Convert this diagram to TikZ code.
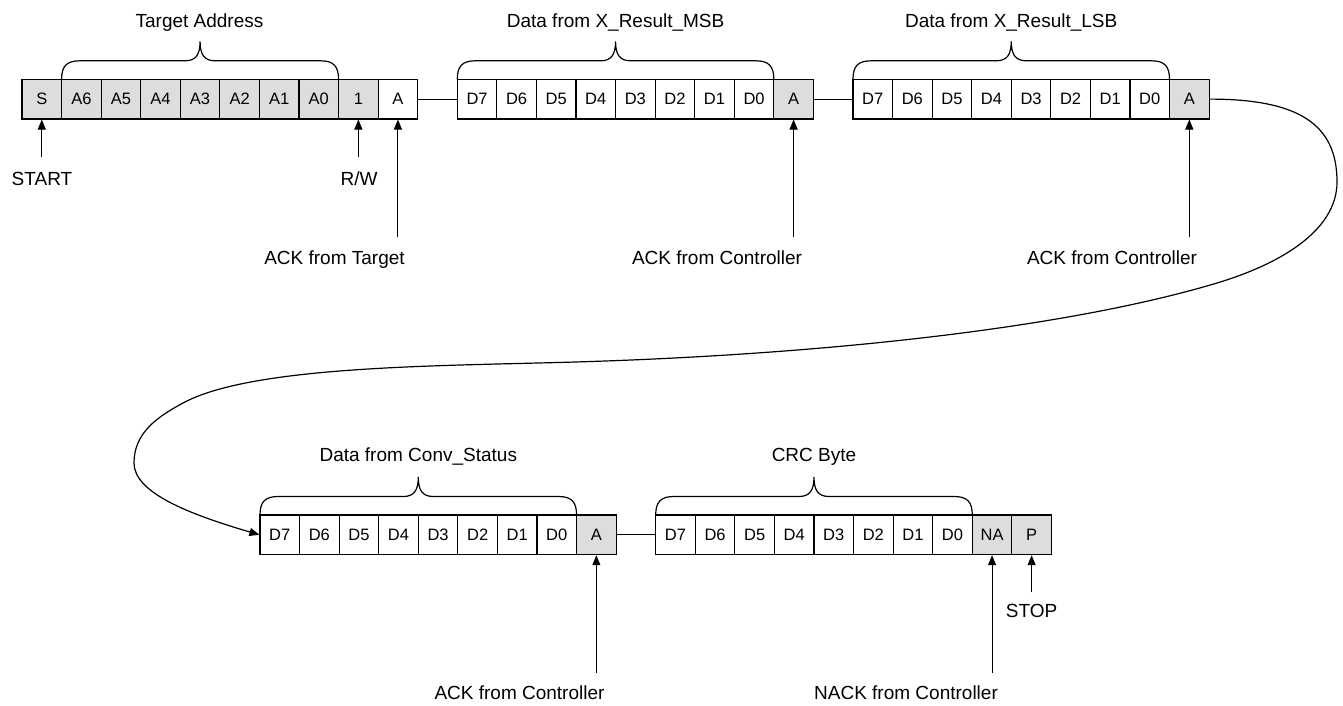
\documentclass[tikz,border=0pt]{standalone}
\usepackage{fontspec}
\setmainfont{Liberation Sans}
\usetikzlibrary{arrows.meta}
\definecolor{bitgray}{HTML}{DDDDDD}
\tikzset{
  cell/.style={draw=black, line width=1.2pt, minimum width=39.57pt,
    minimum height=39.6pt, inner sep=0pt, font=\fontsize{16.5}{18}\selectfont},
  shaded/.style={fill=bitgray},
  plain/.style={fill=white},
  lbl/.style={anchor=base, inner sep=0pt, font=\fontsize{19}{22}\selectfont},
  pointer/.style={line width=1pt, -{Triangle[length=10pt,width=8pt]}},
  braceline/.style={line width=1.2pt},
  link/.style={line width=1.2pt},
}
% curly brace over a run of cells: left x, right x, top edge of the cells
\newcommand\bracedraw[3]{%
  \pgfmathsetmacro\bxm{(#1+#2)/2}
  \draw[braceline] (#1,#3) .. controls (#1,#3-13) and (#1+5,#3-18.5) .. (#1+18,#3-18.5)
    -- (\bxm-15,#3-18.5) .. controls (\bxm-4,#3-18.5) and (\bxm,#3-25) .. (\bxm,#3-38)
    .. controls (\bxm,#3-25) and (\bxm+4,#3-18.5) .. (\bxm+15,#3-18.5)
    -- (#2-18,#3-18.5) .. controls (#2-5,#3-18.5) and (#2,#3-13) .. (#2,#3);}
\begin{document}
\begin{tikzpicture}[x=1pt,y=-1pt]
\useasboundingbox (0,0) rectangle (1343,705);

% ---- first line: address byte, two data bytes ----
\foreach \t [count=\i from 0] in {S,A6,A5,A4,A3,A2,A1,A0,1}
  \node[cell,shaded] (a\i) at ({22+(\i+0.5)*39.57},99.1) {\t};
\node[cell,plain] (a9) at ({22+9.5*39.57},99.1) {A};

\foreach \t [count=\i from 0] in {D7,D6,D5,D4,D3,D2,D1,D0}
  \node[cell,plain] (b\i) at ({22+(\i+11.5)*39.57},99.1) {\t};
\node[cell,shaded] (b8) at ({22+19.5*39.57},99.1) {A};

\foreach \t [count=\i from 0] in {D7,D6,D5,D4,D3,D2,D1,D0}
  \node[cell,plain] (c\i) at ({22+(\i+21.5)*39.57},99.1) {\t};
\node[cell,shaded] (c8) at ({22+29.5*39.57},99.1) {A};

% ---- second line: status byte, CRC byte, stop ----
\foreach \t [count=\i from 0] in {D7,D6,D5,D4,D3,D2,D1,D0}
  \node[cell,plain] (d\i) at ({260+(\i+0.5)*39.57},534.8) {\t};
\node[cell,shaded] (d8) at ({260+8.5*39.57},534.8) {A};

\foreach \t [count=\i from 0] in {D7,D6,D5,D4,D3,D2,D1,D0}
  \node[cell,plain] (e\i) at ({260+(\i+10.5)*39.57},534.8) {\t};
\node[cell,shaded] (e8) at ({260+18.5*39.57},534.8) {NA};
\node[cell,shaded] (e9) at ({260+19.5*39.57},534.8) {P};

% links between bytes
\draw[link] (a9.east) -- (b0.west);
\draw[link] (b8.east) -- (c0.west);
\draw[link] (d8.east) -- (e0.west);

% wrap-around from the end of the first line to the second line
\draw[link, -{Triangle[length=10pt,width=8pt]}] (c8.east)
  .. controls (1300,99.1) and (1337,125) .. (1337,182)
  .. controls (1337,232) and (1277,265) .. (1217,283)
  .. controls (1067,328) and (825,354.5) .. (575,362)
  .. controls (445,366) and (253,365) .. (183,403)
  .. controls (157,417) and (134,433) .. (134,463)
  .. controls (134,493) and (190,514.4) .. (d0.west);

% braces and their titles
\bracedraw{61.57}{338.56}{79.3}
\bracedraw{457.27}{773.83}{79.3}
\bracedraw{852.97}{1169.53}{79.3}
\bracedraw{260}{576.56}{515}
\bracedraw{655.7}{972.26}{515}

\node[lbl] (tTA) at (199.5,27) {Target Address};
\node[lbl] (tMSB) at (615.6,27) {Data from X\_Result\_MSB};
\node[lbl] (tLSB) at (1011.2,27) {Data from X\_Result\_LSB};
\node[lbl] (tCS) at (418.3,461) {Data from Conv\_Status};
\node[lbl] (tCRC) at (814,461) {CRC Byte};

% pointers to individual bits
\coordinate (pS) at (a0.south |- 0,157);
\coordinate (pRW) at (a8.south |- 0,157);
\coordinate (pAT) at (a9.south |- 0,237);
\coordinate (pA1) at (b8.south |- 0,237);
\coordinate (pA2) at (c8.south |- 0,237);
\coordinate (pA3) at (d8.south |- 0,673);
\coordinate (pNA) at (e8.south |- 0,673);
\coordinate (pP) at (e9.south |- 0,592);

\draw[pointer] (pS) -- (a0.south);
\draw[pointer] (pRW) -- (a8.south);
\draw[pointer] (pAT) -- (a9.south);
\draw[pointer] (pA1) -- (b8.south);
\draw[pointer] (pA2) -- (c8.south);
\draw[pointer] (pA3) -- (d8.south);
\draw[pointer] (pNA) -- (e8.south);
\draw[pointer] (pP) -- (e9.south);

\node[lbl] (lS) at (42,185) {START};
\node[lbl] (lRW) at (359,185) {R/W};
\node[lbl] (lAT) at (334.5,264) {ACK from Target};
\node[lbl] (lA1) at (717,264) {ACK from Controller};
\node[lbl] (lA2) at (1112,264) {ACK from Controller};
\node[lbl] (lA3) at (519.5,699.5) {ACK from Controller};
\node[lbl] (lNA) at (906,699.5) {NACK from Controller};
\node[lbl] (lP) at (1031.6,617) {STOP};
\end{tikzpicture}
\end{document}
